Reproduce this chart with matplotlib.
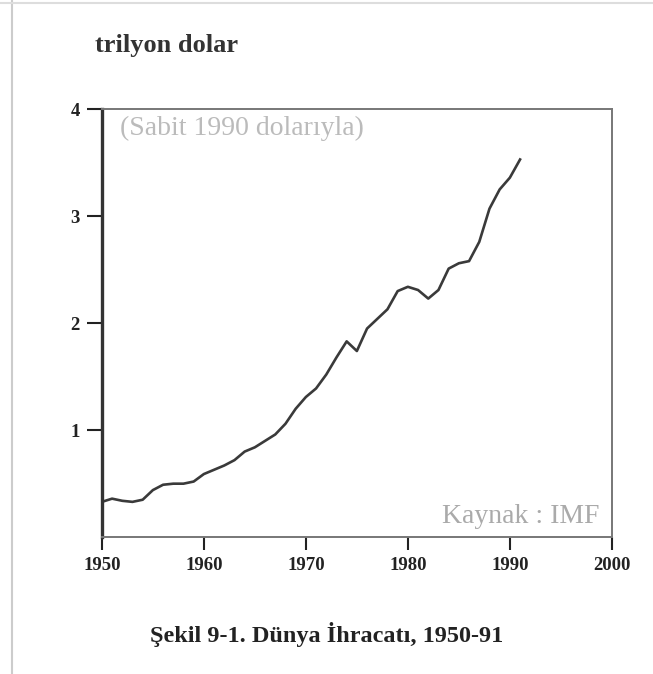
import matplotlib
matplotlib.use('Agg')
import matplotlib.pyplot as plt
from matplotlib.lines import Line2D

# Dünya ihracatı, trilyon dolar (sabit 1990 dolarıyla)
years = list(range(1950, 1992))
exports = [0.33, 0.36, 0.34, 0.33, 0.35, 0.44, 0.49, 0.50, 0.50, 0.52,
           0.59, 0.63, 0.67, 0.72, 0.80, 0.84, 0.90, 0.96, 1.06, 1.20,
           1.31, 1.39, 1.52, 1.68, 1.83, 1.74, 1.95, 2.04, 2.13, 2.30,
           2.34, 2.31, 2.23, 2.31, 2.51, 2.56, 2.58, 2.76, 3.07, 3.25,
           3.36, 3.53]
x_ticks = [1950, 1960, 1970, 1980, 1990, 2000]
y_ticks = [1, 2, 3, 4]

plt.rcParams['font.family'] = ['Liberation Serif', 'DejaVu Serif']

fig = plt.figure(figsize=(6.53, 6.74), dpi=100)
ax = fig.add_axes([0.156, 0.203, 0.781, 0.635])

ax.plot(years, exports, color='#3a3a3a', linewidth=1.9)
ax.set_xlim(1950, 2000)
ax.set_ylim(0, 4)
ax.set_xticks(x_ticks)
ax.set_yticks(y_ticks)
ax.tick_params(axis='both', labelsize=13.5, colors='#222222', width=1.5)
ax.tick_params(axis='y', length=11, pad=5)
ax.tick_params(axis='x', length=9, pad=5)
for lbl in ax.get_xticklabels() + ax.get_yticklabels():
    lbl.set_fontweight('bold')

ax.spines['left'].set_linewidth(2.4)
ax.spines['left'].set_color('#333333')
for s in ['top', 'bottom', 'right']:
    ax.spines[s].set_linewidth(1.4)
    ax.spines[s].set_color('#777777')

ax.text(0.035, 0.985, '(Sabit 1990 dolarıyla)', transform=ax.transAxes,
        fontsize=20, color='#bbbbbb', va='top', ha='left')
ax.text(0.975, 0.02, 'Kaynak : IMF', transform=ax.transAxes,
        fontsize=20, color='#aaaaaa', va='bottom', ha='right')

fig.text(0.145, 0.932, 'trilyon dolar', fontsize=19, fontweight='bold',
         color='#333333', va='center', ha='left')
fig.text(0.50, 0.058, 'Şekil 9-1. Dünya İhracatı, 1950-91', fontsize=17.5,
         fontweight='bold', color='#222222', va='center', ha='center')

# scan edges
fig.add_artist(Line2D([0.018, 0.018], [0.0, 1.0], transform=fig.transFigure,
                      color='#cccccc', linewidth=1.5))
fig.add_artist(Line2D([0.0, 1.0], [0.995, 0.995], transform=fig.transFigure,
                      color='#dddddd', linewidth=1.5))

fig.savefig('out.png', dpi=100)
